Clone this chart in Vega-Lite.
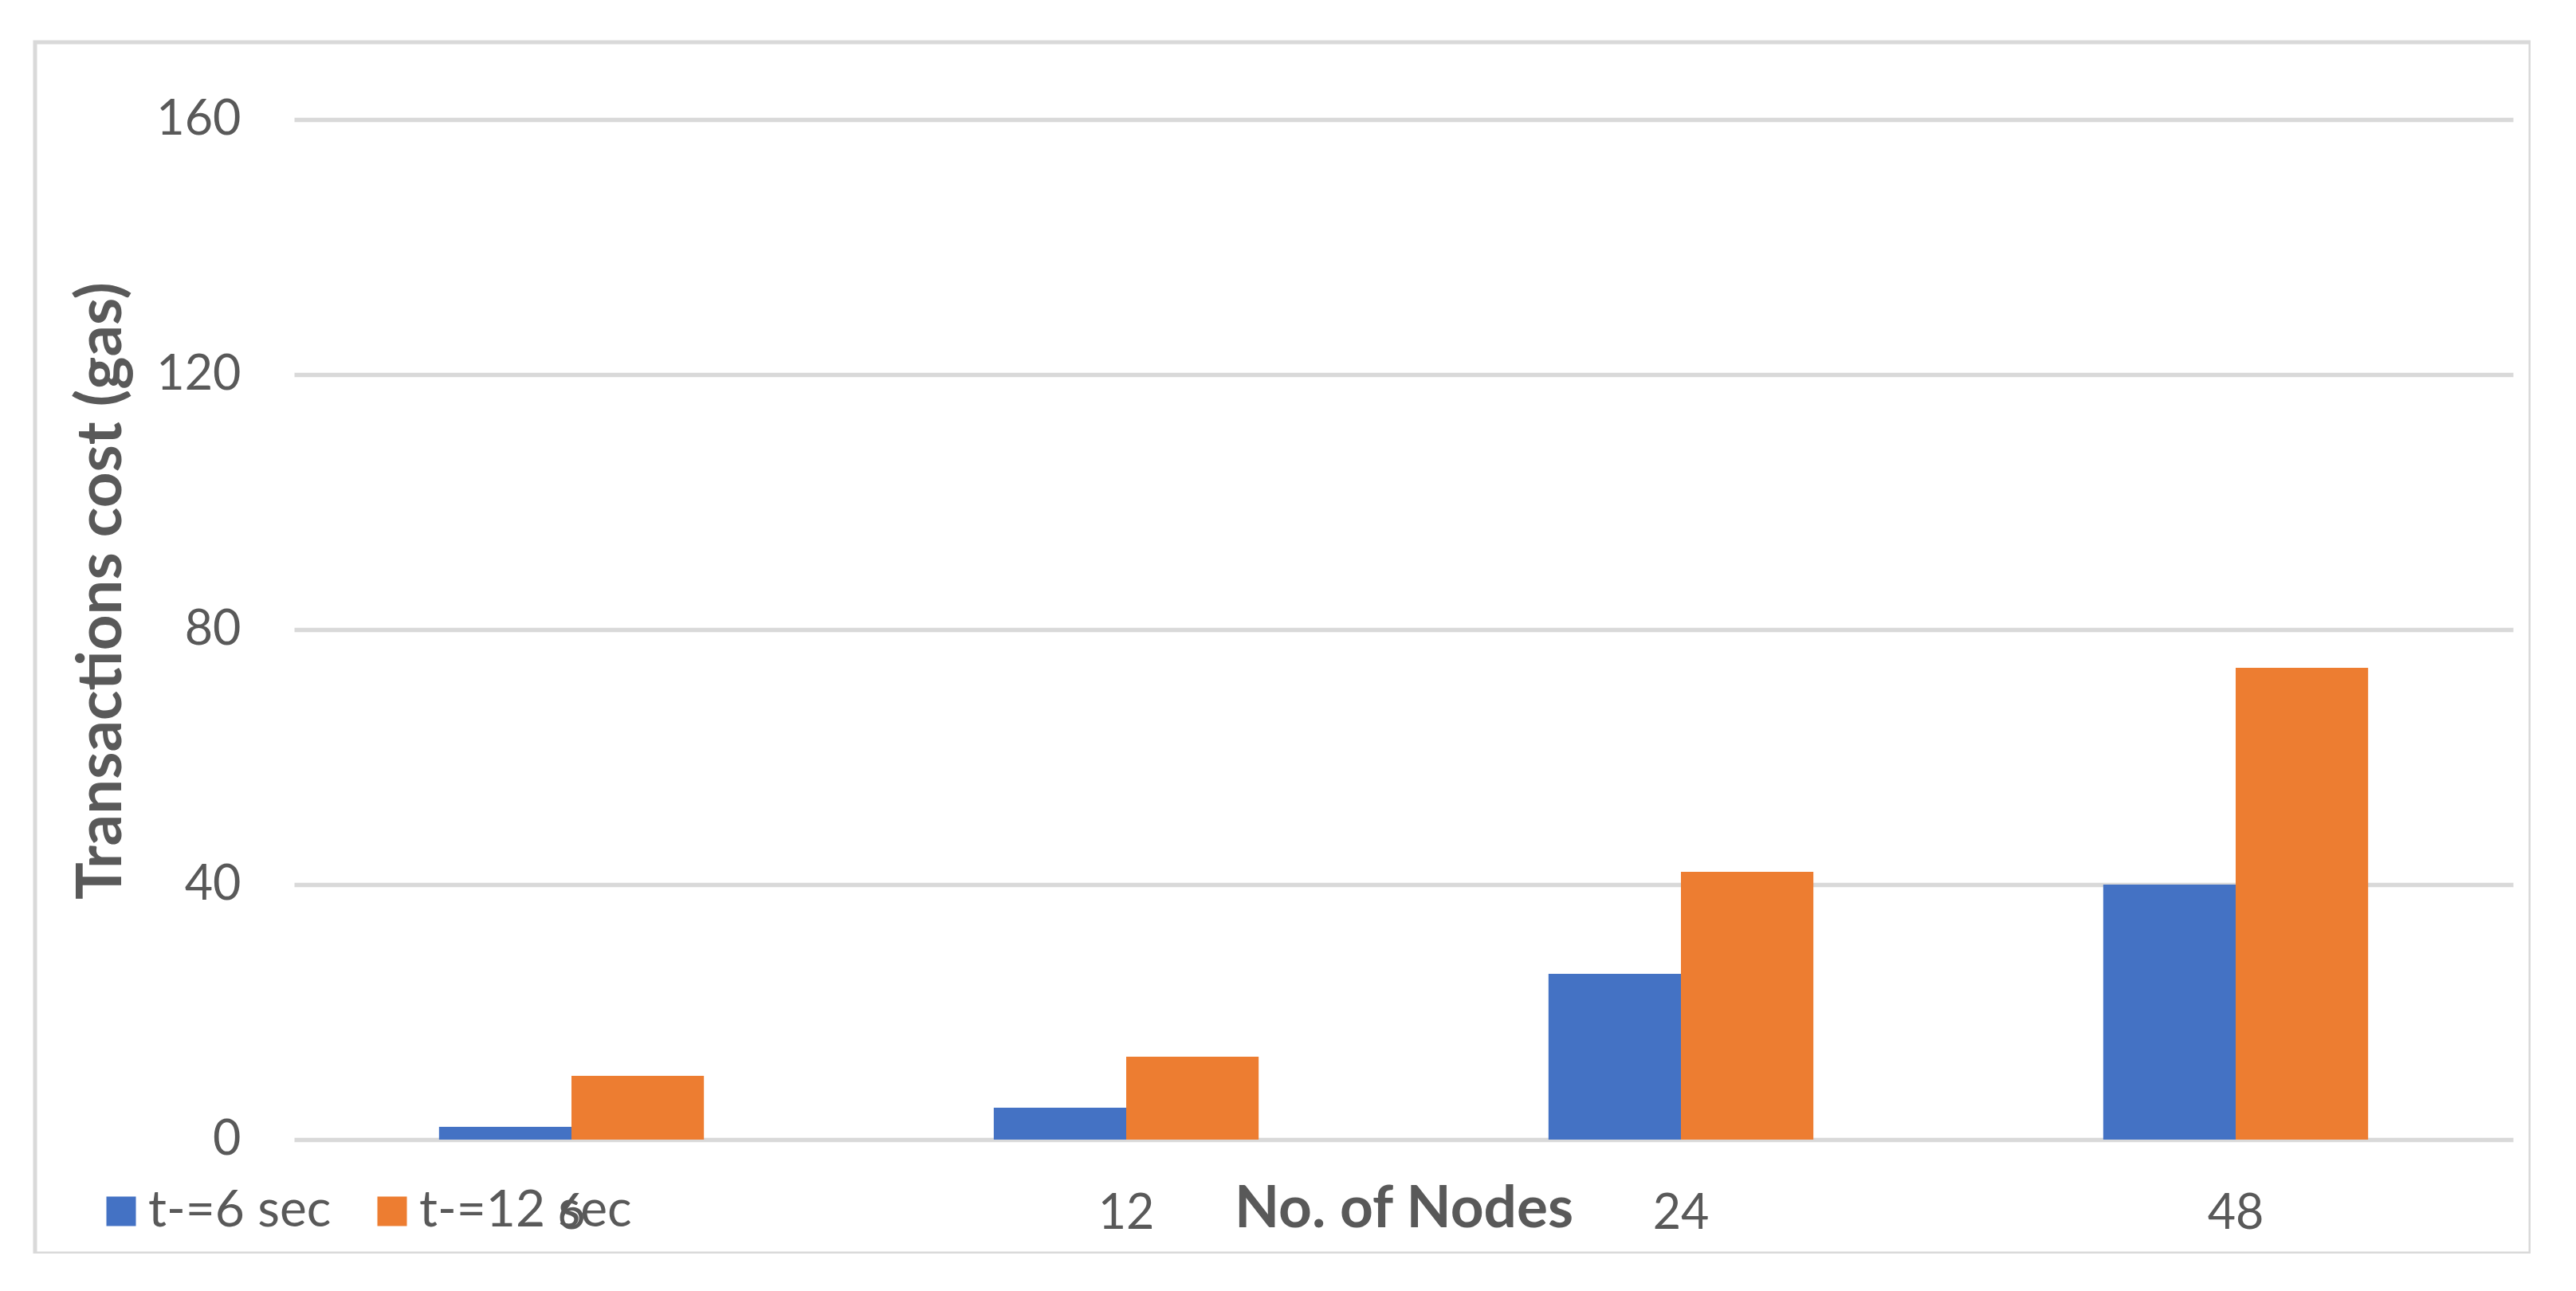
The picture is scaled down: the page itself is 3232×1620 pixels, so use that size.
{
  "$schema": "https://vega.github.io/schema/vega-lite/v6.json",
  "autosize": {"type": "none"},
  "padding": {"left": 44, "top": 53, "right": 0, "bottom": 0},
  "width": 3131,
  "height": 1520,
  "background": "white",
  "config": {
    "view": {"stroke": "#d9d9d9", "strokeWidth": 5},
    "font": "Lato",
    "text": {"font": "Lato"}
  },
  "data": {
    "values": [
      {"nodes": "6", "series": "t-=6 sec", "cost": 2},
      {"nodes": "6", "series": "t-=12 sec", "cost": 10},
      {"nodes": "12", "series": "t-=6 sec", "cost": 5},
      {"nodes": "12", "series": "t-=12 sec", "cost": 13},
      {"nodes": "24", "series": "t-=6 sec", "cost": 26},
      {"nodes": "24", "series": "t-=12 sec", "cost": 42},
      {"nodes": "48", "series": "t-=6 sec", "cost": 40},
      {"nodes": "48", "series": "t-=12 sec", "cost": 74}
    ]
  },
  "mark": {"type": "bar"},
  "encoding": {
    "x": {
      "field": "nodes",
      "type": "ordinal",
      "sort": ["6", "12", "24", "48"],
      "scale": {"range": [325, 3109], "paddingInner": 0.5225, "paddingOuter": 0.26125},
      "axis": {
        "title": "No. of Nodes",
        "orient": "bottom",
        "offset": -143,
        "domain": false,
        "ticks": false,
        "tickSize": 0,
        "grid": false,
        "labelAngle": 0,
        "labelFont": "Lato",
        "labelFontSize": 61,
        "labelColor": "#595959",
        "labelBaseline": "alphabetic",
        "labelPadding": 111,
        "titleFont": "Lato",
        "titleFontSize": 73,
        "titleFontWeight": "bold",
        "titleColor": "#595959",
        "titleBaseline": "alphabetic",
        "titleY": 109
      }
    },
    "xOffset": {
      "field": "series",
      "sort": ["t-=6 sec", "t-=12 sec"],
      "scale": {"paddingInner": 0, "paddingOuter": 0}
    },
    "y": {
      "field": "cost",
      "type": "quantitative",
      "scale": {"domain": [0, 160], "range": [1377, 97], "nice": false, "zero": true},
      "axis": {
        "title": "Transactions cost (gas)",
        "orient": "left",
        "offset": -325,
        "values": [0, 40, 80, 120, 160],
        "domain": false,
        "ticks": false,
        "tickSize": 0,
        "grid": true,
        "gridColor": "#d9d9d9",
        "gridWidth": 5.5,
        "labelFont": "Lato",
        "labelFontSize": 61,
        "labelColor": "#595959",
        "labelPadding": 67,
        "titleFont": "Lato",
        "titleFontSize": 78,
        "titleFontWeight": "bold",
        "titleColor": "#595959",
        "titleBaseline": "middle",
        "titleX": -241,
        "titleY": 688
      }
    },
    "color": {
      "field": "series",
      "type": "nominal",
      "sort": ["t-=6 sec", "t-=12 sec"],
      "scale": {"domain": ["t-=6 sec", "t-=12 sec"], "range": ["#4472c4", "#ed7d31"]},
      "legend": {
        "title": null,
        "orient": "none",
        "direction": "horizontal",
        "legendX": 76,
        "legendY": 1435,
        "symbolType": "square",
        "symbolSize": 1369,
        "symbolStrokeWidth": 0,
        "symbolOpacity": 1,
        "labelFont": "Lato",
        "labelFontSize": 64,
        "labelColor": "#595959",
        "labelOffset": 2,
        "columnPadding": 44,
        "labelLimit": 1000
      }
    }
  }
}
